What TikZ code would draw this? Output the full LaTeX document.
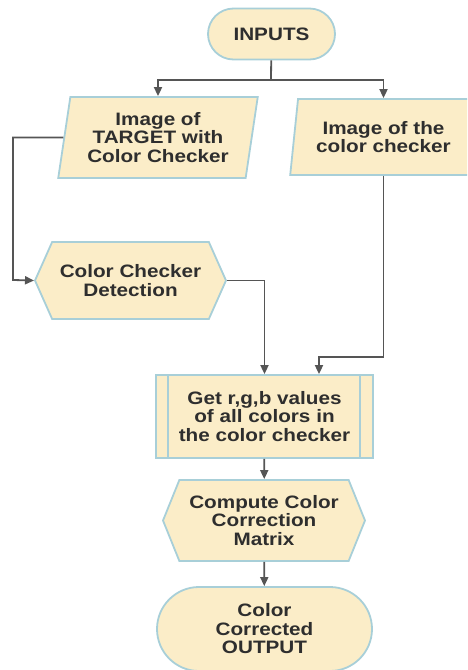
\documentclass[tikz,border=0pt]{standalone}
\usepackage{fontspec}
\setmainfont{Liberation Sans}[FakeStretch=1.15]
\usepackage{tikz}
\usetikzlibrary{shapes.geometric}
\usetikzlibrary{shapes.misc}
\usetikzlibrary{shapes.symbols}
\usetikzlibrary{arrows.meta}
\definecolor{boxfill}{HTML}{FBEDC8}
\definecolor{boxline}{HTML}{A8CFD8}
\definecolor{linegray}{HTML}{555555}
\definecolor{ink}{HTML}{2E2E2E}

\begin{document}
\begin{tikzpicture}[x=1pt,y=-1pt]
  \tikzstyle{blk}=[fill=boxfill, draw=boxline, line width=1.8pt, text=ink, align=center,
    font=\fontsize{18}{18.5}\selectfont\bfseries, inner sep=0pt] % every box looks like this
  \tikzstyle{term}=[blk, rounded rectangle] % start / end
  \tikzstyle{io}=[blk, trapezium, trapezium left angle=79, trapezium right angle=101,
    trapezium stretches=true] % input data
  \tikzstyle{prep}=[blk, signal, signal to=east and west] % processing steps
  \tikzstyle{wire}=[draw=linegray, line width=1.8pt]
  \tikzstyle{arr}=[wire, -{Triangle[length=9pt,width=8pt]}]
  \clip (0,0) rectangle (467,670);

  \node[term, minimum width=127pt, minimum height=51pt] (inputs) at (271.5,34) {INPUTS};
  \node[io, minimum width=200pt, minimum height=81pt] (target) at (158,137.5)
    {Image of\\TARGET with\\Color Checker};
  \node[io, minimum width=187pt, minimum height=76pt] (checker) at (383.5,137)
    {Image of the\\color checker};
  \node[prep, signal pointer angle=132, minimum width=191pt, minimum height=77pt] (detect)
    at (130.5,280.5) {Color Checker\\Detection};
  \node[blk, rectangle, minimum width=217pt, minimum height=83pt] (rgb) at (264.5,416.5)
    {Get r,g,b values\\of all colors in\\the color checker};
  \draw[blk] ([xshift=13pt]rgb.north west) -- ([xshift=13pt]rgb.south west);
  \draw[blk] ([xshift=-14pt]rgb.north east) -- ([xshift=-14pt]rgb.south east);
  \node[prep, signal pointer angle=136, minimum width=202pt, minimum height=81pt] (ccm)
    at (264,520.5) {Compute Color\\Correction\\Matrix};
  \node[term, minimum width=215pt, minimum height=84pt] (output) at (264.5,629)
    {Color\\Corrected\\OUTPUT};

  \coordinate (split) at (271,80);
  \coordinate (lane) at (13,280);
  \coordinate (merge) at (319,357);

  \draw[wire] (inputs) -- (split);
  \draw[arr] (split) -| (target.north);
  \draw[arr] (split) -| (checker.north);
  \draw[arr] (target.west) -| (lane) -- (detect.west);
  \draw[arr] (detect.east) -| (rgb.north);
  \draw[arr] (checker.south) |- (merge) -- (merge |- rgb.north);
  \draw[arr] (rgb) -- (ccm);
  \draw[arr] (ccm) -- (output);
\end{tikzpicture}
\end{document}
